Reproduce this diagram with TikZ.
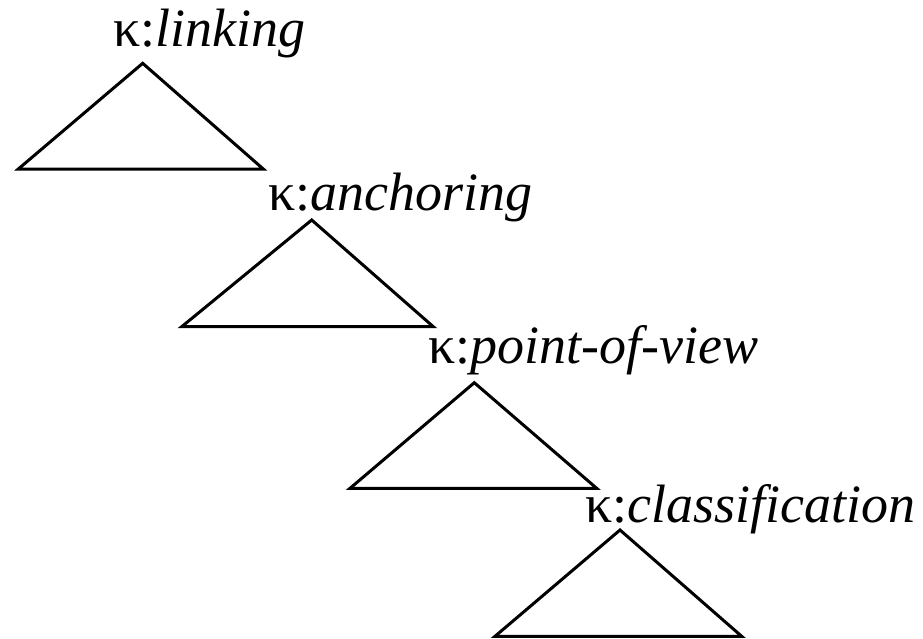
\documentclass[tikz,border=0pt]{standalone}
\usepackage{fontspec}
\setmainfont{Liberation Serif}
\begin{document}
\begin{tikzpicture}[x=1pt,y=-1pt,
  tri/.style={draw=black,line width=3pt,line join=miter},
  lbl/.style={anchor=base west,inner sep=0pt,outer sep=0pt,font=\fontsize{54}{60}\selectfont}]
\useasboundingbox (0,0) rectangle (923,638);
\node[lbl] (l1) at (113,46) {κ:\textit{linking}};
\node[lbl] (l2) at (268,210) {κ:\textit{anchoring}};
\node[lbl] (l3) at (428,363) {κ:\textit{point-of-view}};
\node[lbl] (l4) at (585,522) {κ:\textit{classification}};
\draw[tri] (142.7,63.3) -- (263.3,169) -- (18.3,169) -- cycle;
\draw[tri] (311.7,220) -- (433.3,326.7) -- (181.7,326.7) -- cycle;
\draw[tri] (474.3,382.7) -- (596.7,488.3) -- (350,488.3) -- cycle;
\draw[tri] (620,530) -- (741.7,636.3) -- (495,636.3) -- cycle;
\end{tikzpicture}
\end{document}
